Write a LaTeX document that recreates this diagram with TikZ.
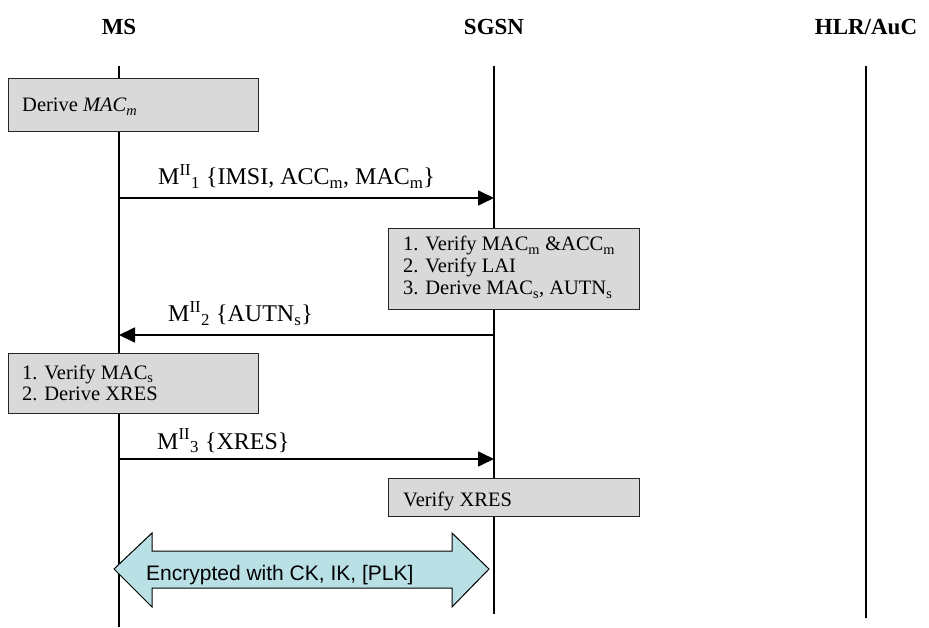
\documentclass[tikz,border=0pt]{standalone}
\usepackage{fontspec}
\setmainfont{Liberation Serif}
\newfontfamily\arialfont{Liberation Sans}
\usetikzlibrary{arrows.meta}
\definecolor{boxgray}{RGB}{217,217,217}
\definecolor{cyanfill}{RGB}{185,224,229}
\begin{document}
\begin{tikzpicture}[x=1pt,y=-1pt,
  life/.style={line width=1.7pt},
  msgarrow/.style={line width=1.7pt,-{Triangle[length=16pt,width=15pt]}},
  procbox/.style={draw=black!85,line width=1.2pt,fill=boxgray,anchor=north west,inner sep=0pt},
  boxtext/.style={anchor=base west,inner sep=0pt,font=\fontsize{20.5}{22}\selectfont},
  msgtext/.style={anchor=base west,inner sep=0pt,font=\fontsize{24}{28}\selectfont},
  titletext/.style={anchor=base,inner sep=0pt,font=\fontsize{23}{26}\selectfont\bfseries},
  bigarrow/.style={draw=black,line width=1pt,fill=cyanfill,line join=miter}
]
\useasboundingbox (0,0) rectangle (929,628);

% titles
\node[titletext] (tms) at (119,35) {MS};
\node[titletext] (tsgsn) at (494,35) {SGSN};
\node[titletext] (thlr) at (866,35) {HLR/AuC};

% lifelines
\coordinate (ms0) at (119,66);  \coordinate (ms1) at (119,627);
\coordinate (sg0) at (494,66);  \coordinate (sg1) at (494,614);
\coordinate (hl0) at (866,66);  \coordinate (hl1) at (866,618);
\draw[life] (ms0) -- (ms1);
\draw[life] (sg0) -- (sg1);
\draw[life] (hl0) -- (hl1);

% box 1
\node[procbox,minimum width=250pt,minimum height=53pt] (b1) at (8,78) {};
\node[boxtext] (b1t) at (22,112) {Derive \textit{MAC\textsubscript{m}}};

% message 1
\coordinate (m1a) at (119,198); \coordinate (m1b) at (494,198);
\draw[msgarrow] (m1a) -- (m1b);
\node[msgtext] (m1t) at (158,185) {M\textsuperscript{II}\textsubscript{1} \{IMSI, ACC\textsubscript{m}, MAC\textsubscript{m}\}};

% box 2
\node[procbox,minimum width=251pt,minimum height=81pt] (b2) at (388,228) {};
\node[boxtext] (b2t1) at (403,251) {1. Verify MAC\textsubscript{m} \&ACC\textsubscript{m}};
\node[boxtext] (b2t2) at (403,273) {2. Verify LAI};
\node[boxtext] (b2t3) at (403,295) {3. Derive MAC\textsubscript{s}, AUTN\textsubscript{s}};

% message 2
\coordinate (m2a) at (494,335); \coordinate (m2b) at (119,335);
\draw[msgarrow] (m2a) -- (m2b);
\node[msgtext] (m2t) at (168,322) {M\textsuperscript{II}\textsubscript{2} \{AUTN\textsubscript{s}\}};

% box 3
\node[procbox,minimum width=250pt,minimum height=60pt] (b3) at (8,353) {};
\node[boxtext] (b3t1) at (22,379) {1. Verify MAC\textsubscript{s}};
\node[boxtext] (b3t2) at (22,400) {2. Derive XRES};

% message 3
\coordinate (m3a) at (119,459); \coordinate (m3b) at (494,459);
\draw[msgarrow] (m3a) -- (m3b);
\node[msgtext] (m3t) at (157,449) {M\textsuperscript{II}\textsubscript{3} \{XRES\}};

% box 4
\node[procbox,minimum width=251pt,minimum height=38pt] (b4) at (388,478) {};
\node[boxtext] (b4t) at (403,506) {Verify XRES};

% double arrow
\draw[bigarrow] (114,569) -- (152,533) -- (152,551) -- (452,551) -- (452,533)
  -- (489,569) -- (452,607) -- (452,588) -- (152,588) -- (152,607) -- cycle;
\node[anchor=base west,inner sep=0pt,font=\arialfont\fontsize{21}{24}\selectfont] (enc) at (146,580) {Encrypted with CK, IK, [PLK]};
\end{tikzpicture}
\end{document}
